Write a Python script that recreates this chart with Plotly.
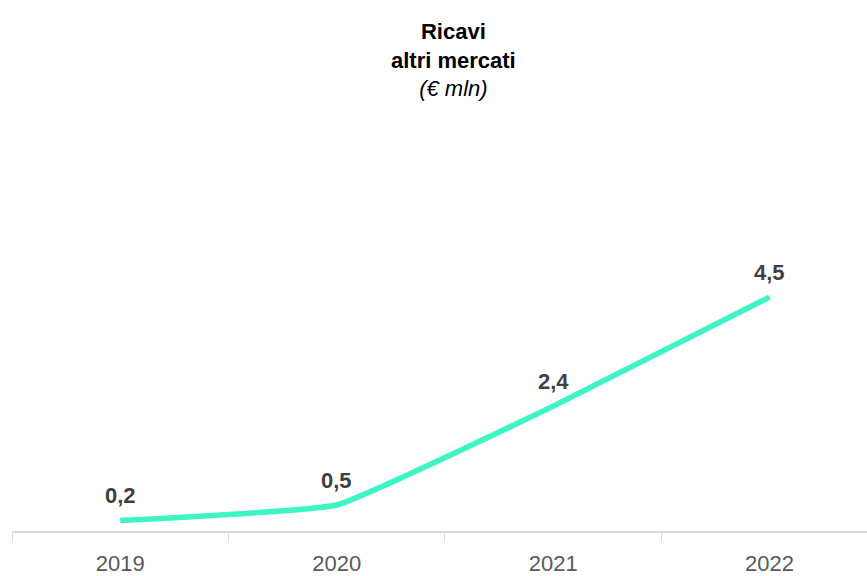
import plotly.graph_objects as go

years = ["2019", "2020", "2021", "2022"]
values = [0.2, 0.5, 2.4, 4.5]
labels = ["0,2", "0,5", "2,4", "4,5"]

fig = go.Figure()
fig.add_trace(go.Scatter(
    x=years, y=values, mode="lines",
    line=dict(color="#3DF5C2", width=5.5, shape="spline", smoothing=0.3),
    hoverinfo="skip", showlegend=False,
))

for i, (v, lab) in enumerate(zip(values, labels)):
    fig.add_annotation(x=i, y=v, xref="x", yref="y", text="<b>" + lab + "</b>", showarrow=False,
                       yshift=25, font=dict(family="Liberation Sans, Arial", size=22, color="#404040"))

fig.add_annotation(xref="paper", yref="paper", x=0.516, y=1.118,
                   text="<b>Ricavi</b><br><b>altri mercati</b><br><i>(€ mln)</i>",
                   showarrow=False, xanchor="center", yanchor="middle",
                   font=dict(family="Liberation Sans, Arial", size=22, color="#000000"))

fig.update_layout(
    width=867, height=576,
    margin=dict(l=12, r=0, t=110, b=43),
    paper_bgcolor="white", plot_bgcolor="white",
    font=dict(family="Liberation Sans, Arial"),
)
fig.update_xaxes(
    type="category", range=[-0.5, 3.45],
    showline=True, linecolor="#D9D9D9", linewidth=1.5,
    ticks="outside", tickson="boundaries", ticklen=8, tickcolor="#D9D9D9", tickwidth=1,
    showgrid=False, zeroline=False, ticklabelstandoff=12,
    tickfont=dict(size=22, color="#595959"),
)
fig.update_yaxes(range=[0, 8.1], visible=False, showgrid=False, zeroline=False)

fig.write_html("out.html")
